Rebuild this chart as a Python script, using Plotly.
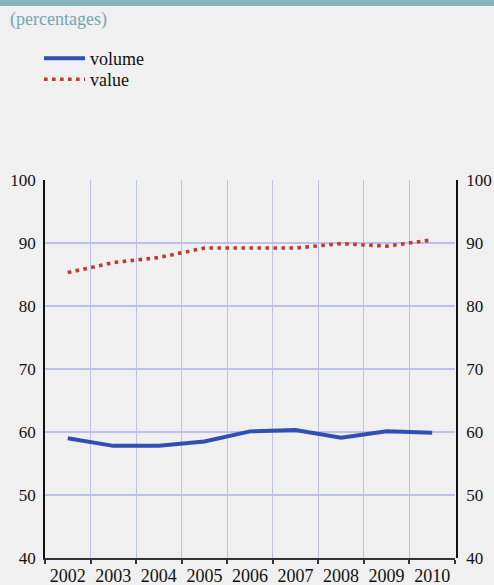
import plotly.graph_objects as go

years = ["2002", "2003", "2004", "2005", "2006", "2007", "2008", "2009", "2010"]
volume = [59.0, 57.8, 57.8, 58.5, 60.1, 60.3, 59.1, 60.1, 59.9]
value = [85.3, 86.9, 87.7, 89.2, 89.2, 89.2, 89.9, 89.5, 90.5]

FONT = "Liberation Serif"
BLUE = "#2f4fb2"
RED = "#bf3b2f"
GRID = "#bcc0ea"
BG = "#f0f0f0"
TEAL = "#6ea8b3"
INK = "#111111"

W, H = 494, 585
L, R, T, B = 45, 37, 180, 27
PH = H - T - B
PW = W - L - R

def py(pix):
    return (H - B - pix) / PH

def px(pix):
    return (pix - L) / PW

fig = go.Figure()
fig.add_trace(go.Scatter(x=years, y=volume, name="volume", mode="lines",
                         line=dict(color=BLUE, width=4), legend="legend"))
fig.add_trace(go.Scatter(x=years, y=value, name="value", mode="lines",
                         line=dict(color=RED, width=3.6, dash="3.6px,4.4px"), legend="legend2"))
# carrier for the right-hand axis (same scale)
fig.add_trace(go.Scatter(x=years, y=value, yaxis="y2", mode="lines", opacity=0,
                         showlegend=False, hoverinfo="skip", line=dict(width=0)))

leg_common = dict(xref="container", yref="container", xanchor="left", yanchor="top",
                  bgcolor="rgba(0,0,0,0)", font=dict(family=FONT, size=18, color=INK),
                  itemwidth=41)
ytick = dict(family=FONT, size=17, color=INK)

fig.update_layout(
    template="none",
    width=W, height=H,
    paper_bgcolor=BG, plot_bgcolor=BG,
    margin=dict(l=L, r=R, t=T, b=B, autoexpand=False),
    font=dict(family=FONT, size=18, color=INK),
    showlegend=True,
    legend=dict(x=39 / W, y=1 - 40 / H, **leg_common),
    legend2=dict(x=39 / W, y=1 - 61 / H, **leg_common),
    xaxis=dict(type="category", tickson="boundaries", showgrid=True, gridcolor=GRID, gridwidth=1.2,
               showline=True, linecolor="#333333", linewidth=2,
               ticks="outside", ticklen=4, tickcolor="#333333", tickwidth=1.5,
               tickangle=0, automargin=False,
               tickfont=dict(family=FONT, size=18, color=INK),
               range=[-0.5, 8.5], zeroline=False, domain=[0, 0.995]),
    yaxis=dict(range=[40, 100], dtick=10, showgrid=True, gridcolor=GRID, gridwidth=1.5,
               showline=True, linecolor=INK, linewidth=1.5,
               ticks="outside", ticklen=4, tickcolor="rgba(0,0,0,0)", automargin=False,
               tickfont=ytick, zeroline=False),
    yaxis2=dict(range=[40, 100], dtick=10, overlaying="y", side="right", anchor="free", position=1.0,
                showgrid=False, showline=True, linecolor=INK, linewidth=1.5,
                ticks="outside", ticklen=5, tickcolor="rgba(0,0,0,0)", automargin=False,
                tickfont=ytick, zeroline=False),
)

fig.add_shape(type="rect", xref="paper", yref="paper", x0=px(-5), x1=px(W + 5),
              y0=py(6), y1=py(-2),
              fillcolor="#87b3bd", line=dict(width=0), layer="above")
fig.add_annotation(text="(percentages)", xref="paper", yref="paper",
                   x=px(8), y=py(19),
                   xanchor="left", yanchor="middle", showarrow=False,
                   font=dict(family=FONT, size=18, color=TEAL))

fig.write_html("out.html", config={"displayModeBar": False},
               post_script="document.body.style.margin='0';")
